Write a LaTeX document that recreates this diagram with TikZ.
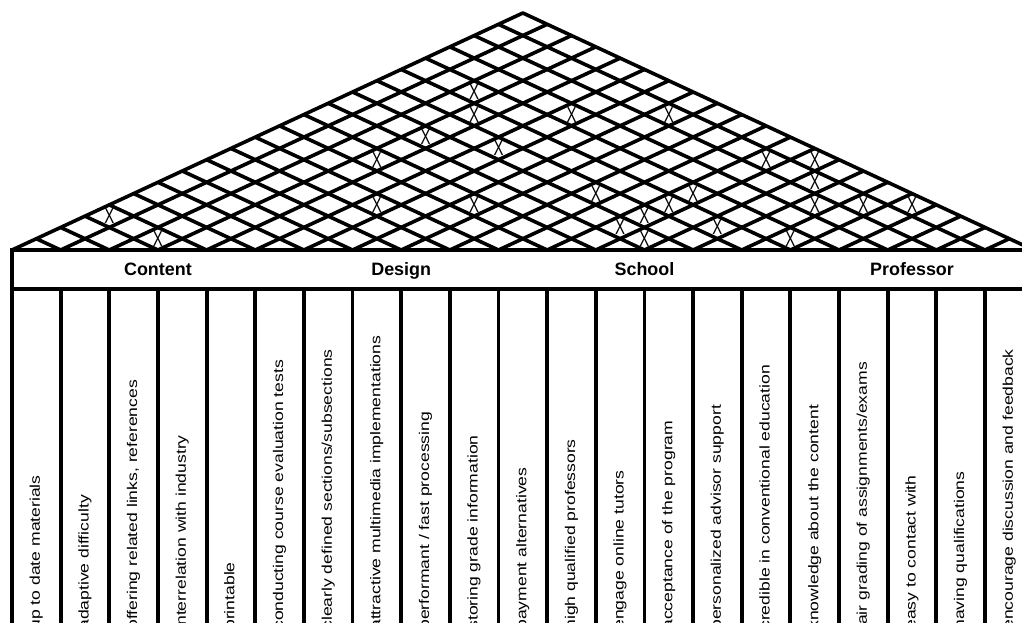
\documentclass[tikz,border=0pt]{standalone}
\usepackage{fontspec}
\setmainfont{Liberation Sans}
\usepackage{graphicx}
\usepackage{tikz}

\newcommand{\longtext}[1]{\scalebox{1.25}[1]{#1}}
\newcommand{\tallx}{\scalebox{1}[1.45]{X}}

\begin{document}
\begin{tikzpicture}[
  roofline/.style={line width=2.05pt},
  colline/.style={line width=2.2pt},
  colname/.style={anchor=base west, rotate=90, inner sep=0pt, font=\fontsize{8}{9.6}\selectfont},
  groupname/.style={anchor=base, inner sep=0pt, font=\fontsize{10.2}{12}\selectfont\bfseries},
  corr/.style={inner sep=0pt, font=\fontsize{8.5}{10}\selectfont}]
\useasboundingbox (0,0) rectangle (20.440,-12.440);
\clip (0,0) rectangle (20.440,-12.440);
% roof
\draw[roofline, line join=round] (0.240,-5.000) -- (10.457,-0.260) -- (20.673,-5.000);
\draw[roofline] (1.213,-5.000) -- (10.943,-0.486);
\draw[roofline] (2.186,-5.000) -- (11.430,-0.711);
\draw[roofline] (3.159,-5.000) -- (11.916,-0.937);
\draw[roofline] (4.132,-5.000) -- (12.403,-1.163);
\draw[roofline] (5.105,-5.000) -- (12.889,-1.389);
\draw[roofline] (6.078,-5.000) -- (13.376,-1.614);
\draw[roofline] (7.051,-5.000) -- (13.862,-1.840);
\draw[roofline] (8.024,-5.000) -- (14.349,-2.066);
\draw[roofline] (8.997,-5.000) -- (14.835,-2.291);
\draw[roofline] (9.970,-5.000) -- (15.322,-2.517);
\draw[roofline] (10.943,-5.000) -- (15.808,-2.743);
\draw[roofline] (11.916,-5.000) -- (16.295,-2.969);
\draw[roofline] (12.889,-5.000) -- (16.781,-3.194);
\draw[roofline] (13.862,-5.000) -- (17.268,-3.420);
\draw[roofline] (14.835,-5.000) -- (17.754,-3.646);
\draw[roofline] (15.808,-5.000) -- (18.241,-3.871);
\draw[roofline] (16.781,-5.000) -- (18.727,-4.097);
\draw[roofline] (17.754,-5.000) -- (19.214,-4.323);
\draw[roofline] (18.727,-5.000) -- (19.700,-4.549);
\draw[roofline] (19.700,-5.000) -- (20.187,-4.774);
\draw[roofline] (1.213,-5.000) -- (0.727,-4.774);
\draw[roofline] (2.186,-5.000) -- (1.213,-4.549);
\draw[roofline] (3.159,-5.000) -- (1.700,-4.323);
\draw[roofline] (4.132,-5.000) -- (2.186,-4.097);
\draw[roofline] (5.105,-5.000) -- (2.673,-3.871);
\draw[roofline] (6.078,-5.000) -- (3.159,-3.646);
\draw[roofline] (7.051,-5.000) -- (3.646,-3.420);
\draw[roofline] (8.024,-5.000) -- (4.132,-3.194);
\draw[roofline] (8.997,-5.000) -- (4.619,-2.969);
\draw[roofline] (9.970,-5.000) -- (5.105,-2.743);
\draw[roofline] (10.943,-5.000) -- (5.592,-2.517);
\draw[roofline] (11.916,-5.000) -- (6.078,-2.291);
\draw[roofline] (12.889,-5.000) -- (6.565,-2.066);
\draw[roofline] (13.862,-5.000) -- (7.051,-1.840);
\draw[roofline] (14.835,-5.000) -- (7.538,-1.614);
\draw[roofline] (15.808,-5.000) -- (8.024,-1.389);
\draw[roofline] (16.781,-5.000) -- (8.511,-1.163);
\draw[roofline] (17.754,-5.000) -- (8.997,-0.937);
\draw[roofline] (18.727,-5.000) -- (9.484,-0.711);
\draw[roofline] (19.700,-5.000) -- (9.970,-0.486);
% correlations
\node[corr] (x0-3) at (2.186,-4.323) {\tallx};
\node[corr] (x2-3) at (3.159,-4.774) {\tallx};
\node[corr] (x3-11) at (7.538,-3.194) {\tallx};
\node[corr] (x5-9) at (7.538,-4.097) {\tallx};
\node[corr] (x3-13) at (8.511,-2.743) {\tallx};
\node[corr] (x2-16) at (9.484,-1.840) {\tallx};
\node[corr] (x3-15) at (9.484,-2.291) {\tallx};
\node[corr] (x7-11) at (9.484,-4.097) {\tallx};
\node[corr] (x5-14) at (9.970,-2.969) {\tallx};
\node[corr] (x5-17) at (11.430,-2.291) {\tallx};
\node[corr] (x9-14) at (11.916,-3.871) {\tallx};
\node[corr] (x11-13) at (12.403,-4.549) {\tallx};
\node[corr] (x11-14) at (12.889,-4.323) {\tallx};
\node[corr] (x12-13) at (12.889,-4.774) {\tallx};
\node[corr] (x7-19) at (13.376,-2.291) {\tallx};
\node[corr] (x11-15) at (13.376,-4.097) {\tallx};
\node[corr] (x11-16) at (13.862,-3.871) {\tallx};
\node[corr] (x13-15) at (14.349,-4.549) {\tallx};
\node[corr] (x11-19) at (15.322,-3.194) {\tallx};
\node[corr] (x15-16) at (15.808,-4.774) {\tallx};
\node[corr] (x12-20) at (16.295,-3.194) {\tallx};
\node[corr] (x13-19) at (16.295,-3.646) {\tallx};
\node[corr] (x14-18) at (16.295,-4.097) {\tallx};
\node[corr] (x15-19) at (17.268,-4.097) {\tallx};
\node[corr] (x16-20) at (18.241,-4.097) {\tallx};
% groups
\draw[colline] (0.240,-5.000) rectangle (20.673,-5.780);
\node[groupname] (content) at (3.159,-5.500) {Content};
\node[groupname] (design) at (8.024,-5.500) {Design};
\node[groupname] (school) at (12.889,-5.500) {School};
\node[groupname] (professor) at (18.241,-5.500) {Professor};
% columns
\draw[colline] (0.240,-5.780) rectangle (1.213,-12.600);
\node[colname] (c0) at (0.797,-12.600) {\longtext{up to date materials}};
\draw[colline] (1.213,-5.780) rectangle (2.186,-12.600);
\node[colname] (c1) at (1.770,-12.600) {\longtext{adaptive difficulty}};
\draw[colline] (2.186,-5.780) rectangle (3.159,-12.600);
\node[colname] (c2) at (2.743,-12.600) {\longtext{offering related links, references}};
\draw[colline] (3.159,-5.780) rectangle (4.132,-12.600);
\node[colname] (c3) at (3.716,-12.600) {\longtext{interrelation with industry}};
\draw[colline] (4.132,-5.780) rectangle (5.105,-12.600);
\node[colname] (c4) at (4.689,-12.600) {\longtext{printable}};
\draw[colline] (5.105,-5.780) rectangle (6.078,-12.600);
\node[colname] (c5) at (5.662,-12.600) {\longtext{conducting course evaluation tests}};
\draw[colline] (6.078,-5.780) rectangle (7.051,-12.600);
\node[colname] (c6) at (6.635,-12.600) {\longtext{clearly defined sections/subsections}};
\draw[colline] (7.051,-5.780) rectangle (8.024,-12.600);
\node[colname] (c7) at (7.608,-12.600) {\longtext{attractive multimedia implementations}};
\draw[colline] (8.024,-5.780) rectangle (8.997,-12.600);
\node[colname] (c8) at (8.581,-12.600) {\longtext{performant / fast processing}};
\draw[colline] (8.997,-5.780) rectangle (9.970,-12.600);
\node[colname] (c9) at (9.554,-12.600) {\longtext{storing grade information}};
\draw[colline] (9.970,-5.780) rectangle (10.943,-12.600);
\node[colname] (c10) at (10.527,-12.600) {\longtext{payment alternatives}};
\draw[colline] (10.943,-5.780) rectangle (11.916,-12.600);
\node[colname] (c11) at (11.500,-12.600) {\longtext{high qualified professors}};
\draw[colline] (11.916,-5.780) rectangle (12.889,-12.600);
\node[colname] (c12) at (12.473,-12.600) {\longtext{engage online tutors}};
\draw[colline] (12.889,-5.780) rectangle (13.862,-12.600);
\node[colname] (c13) at (13.446,-12.600) {\longtext{acceptance of the program}};
\draw[colline] (13.862,-5.780) rectangle (14.835,-12.600);
\node[colname] (c14) at (14.419,-12.600) {\longtext{personalized advisor support}};
\draw[colline] (14.835,-5.780) rectangle (15.808,-12.600);
\node[colname] (c15) at (15.392,-12.600) {\longtext{credible in conventional education}};
\draw[colline] (15.808,-5.780) rectangle (16.781,-12.600);
\node[colname] (c16) at (16.365,-12.600) {\longtext{knowledge about the content}};
\draw[colline] (16.781,-5.780) rectangle (17.754,-12.600);
\node[colname] (c17) at (17.338,-12.600) {\longtext{fair grading of assignments/exams}};
\draw[colline] (17.754,-5.780) rectangle (18.727,-12.600);
\node[colname] (c18) at (18.311,-12.600) {\longtext{easy to contact with}};
\draw[colline] (18.727,-5.780) rectangle (19.700,-12.600);
\node[colname] (c19) at (19.284,-12.600) {\longtext{having qualifications}};
\draw[colline] (19.700,-5.780) rectangle (20.673,-12.600);
\node[colname] (c20) at (20.257,-12.600) {\longtext{encourage discussion and feedback}};
\end{tikzpicture}
\end{document}
